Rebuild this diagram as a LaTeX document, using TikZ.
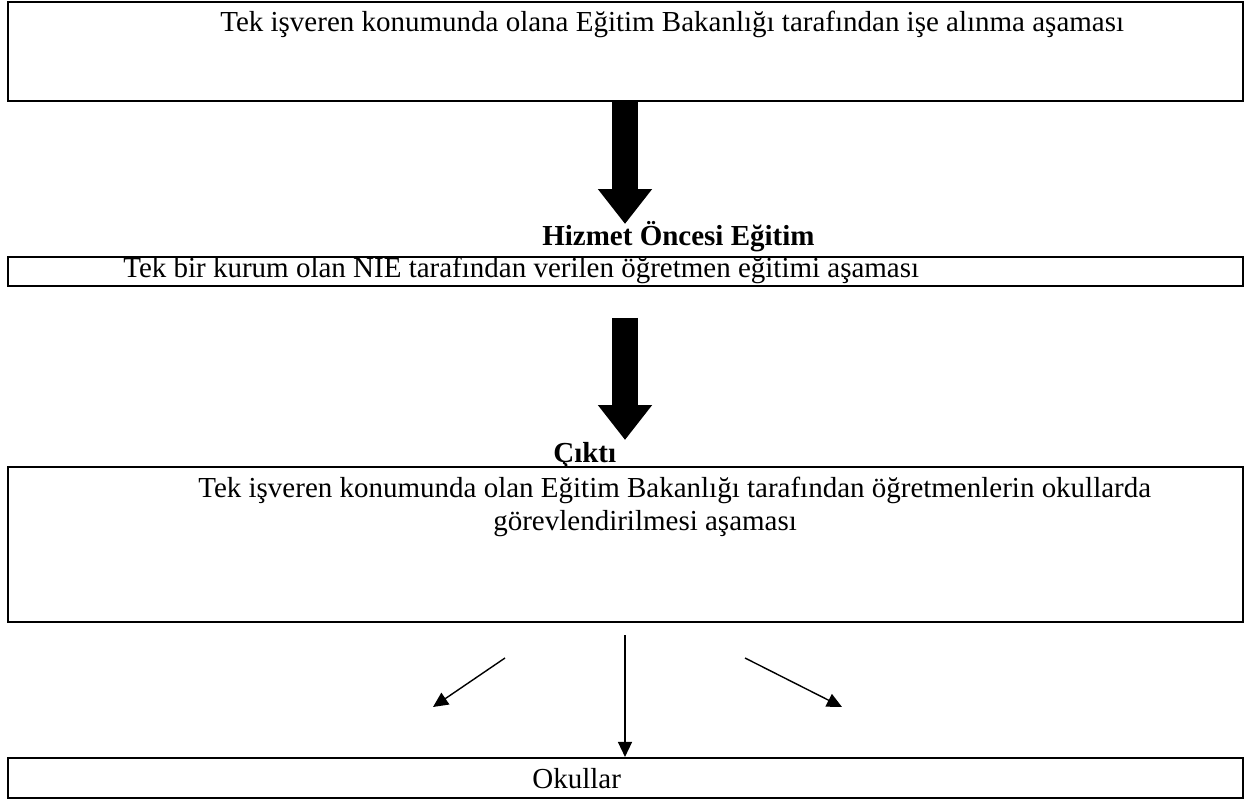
\documentclass[tikz,border=0pt]{standalone}
\usepackage{fontspec}
\setmainfont{Liberation Serif}
\usetikzlibrary{arrows.meta,positioning,calc}

\begin{document}
\begin{tikzpicture}[x=0.02cm,y=-0.02cm,
  kutu/.style={draw,line width=1.2pt,inner sep=0pt},
  yazi/.style={font=\fontsize{16.5}{18.8}\selectfont,inner sep=0pt,anchor=base west},
  baslik/.style={font=\fontsize{16.5}{18.8}\selectfont\bfseries,inner sep=0pt,anchor=base west},
  kalin/.style={line width=0.52cm,-{Triangle[width=1.04cm,length=0.7cm]}},
  ince/.style={line width=0.8pt,-{Triangle[width=0.28cm,length=0.3cm]}}]
\useasboundingbox (0,0) rectangle (1251,800);

\node[kutu,line width=1.5pt,minimum width=24.7cm,minimum height=1.98cm] (k1) at (625.5,51.5) {};
\node[yazi] (t1) at (220,32) {Tek işveren konumunda olana Eğitim Bakanlığı tarafından işe alınma aşaması};

\coordinate (u1) at (625,224);
\draw[kalin] (k1.south -| u1) -- (u1);
\node[baslik] (h) at (542,246) {Hizmet Öncesi Eğitim};

\node[kutu,minimum width=24.7cm,minimum height=0.58cm] (k2) at (625.5,271.5) {};
\node[yazi] (t2) at (123,278) {Tek bir kurum olan NIE tarafından verilen öğretmen eğitimi aşaması};

\coordinate (b2) at (625,318);
\coordinate (u2) at (625,440);
\draw[kalin] (b2) -- (u2);
\node[baslik] (c) at (553,462) {Çıktı};

\node[kutu,minimum width=24.7cm,minimum height=3.1cm] (k3) at (625.5,544.5) {};
\node[yazi] (t3) at (198,498) {Tek işveren konumunda olan Eğitim Bakanlığı tarafından öğretmenlerin okullarda};
\node[yazi] (t3b) at (493,530) {görevlendirilmesi aşaması};

\node[kutu,minimum width=24.7cm,minimum height=0.8cm] (k4) at (625.5,778) {};
\node[yazi] (t4) at (532,788) {Okullar};

\coordinate (s1) at (505,658);
\coordinate (s2) at (433,707);
\coordinate (s3) at (625,635);
\coordinate (s4) at (745,658);
\coordinate (s5) at (842,707);
\draw[ince] (s1) -- (s2);
\draw[ince] (s3) -- (k4.north -| s3);
\draw[ince] (s4) -- (s5);
\end{tikzpicture}
\end{document}
